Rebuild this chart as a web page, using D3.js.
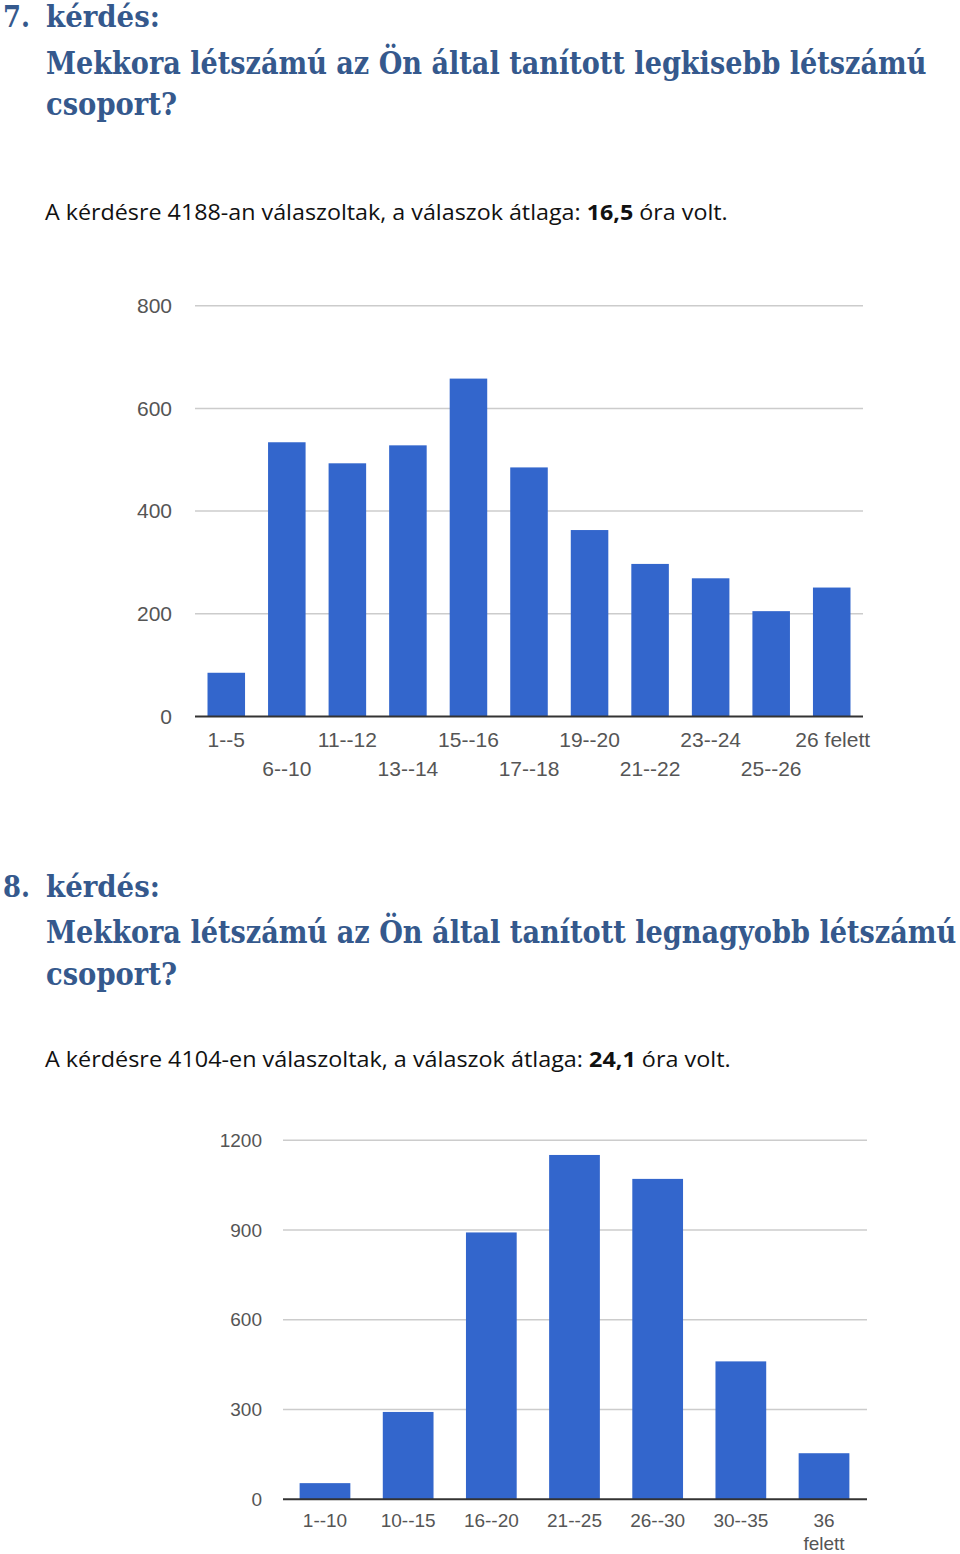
<!DOCTYPE html>
<html>
<head>
<meta charset="utf-8">
<script src="https://cdn.jsdelivr.net/npm/d3@7"></script>
<style>
  html, body { margin: 0; padding: 0; background: #fff; }
  svg { display: block; }
</style>
</head>
<body>
<svg id="page" width="960" height="1554"></svg>
<script>
// ---- Data ----
const categories1 = ["1--5","6--10","11--12","13--14","15--16","17--18","19--20","21--22","23--24","25--26","26 felett"];
const values1 = [85, 534, 493, 528, 658, 485, 363, 297, 269, 205, 251];
const ticks1 = [0, 200, 400, 600, 800];

const categories2 = ["1--10","10--15","16--20","21--25","26--30","30--35","36 felett"];
const values2 = [54, 292, 892, 1151, 1071, 461, 154];
const ticks2 = [0, 300, 600, 900, 1200];

const headingNum1 = "7.";
const headingNum2 = "8.";
const headingWord = "kérdés:";
const question1 = "Mekkora létszámú az Ön által tanított legkisebb létszámú";
const question2 = "Mekkora létszámú az Ön által tanított legnagyobb létszámú";
const questionEnd = "csoport?";
const body1 = ["A kérdésre 4188-an válaszoltak, a válaszok átlaga: ", "16,5", " óra volt."];
const body2 = ["A kérdésre 4104-en válaszoltak, a válaszok átlaga: ", "24,1", " óra volt."];

// ---- Styles ----
const HEAD_COLOR = "#35598d";
const BAR_COLOR = "#3366cc";
const GRID_COLOR = "#cccccc";
const LABEL_COLOR = "#555555";

const svg = d3.select("#page");
svg.append("rect").attr("width", 960).attr("height", 1554).attr("fill", "#fff");

function fitText(sel, x, y, targetW) {
  const node = sel.node();
  const w = node.getBBox().width;
  sel.attr("x", 0).attr("y", 0)
     .attr("transform", `translate(${x},${y}) scale(${targetW / w},1)`);
}

function heading(num, question, yNum, yQ, yEnd, qWidth) {
  const g = svg.append("g")
    .attr("font-family", "'DejaVu Serif', 'Liberation Serif', serif")
    .attr("font-weight", "bold")
    .attr("font-size", 31)
    .attr("fill", HEAD_COLOR);
  fitText(g.append("text").attr("font-size", 29).text(num), 3, yNum, 27);
  fitText(g.append("text").attr("font-size", 29).text(headingWord), 46, yNum, 114);
  fitText(g.append("text").text(question), 46, yQ, qWidth);
  fitText(g.append("text").text(questionEnd), 46, yEnd, 131);
}

function bodyLine(parts, y, width) {
  const t = svg.append("text")
    .attr("font-family", "'Open Sans', 'Noto Sans', sans-serif")
    .attr("font-size", 22)
    .attr("fill", "#111");
  t.append("tspan").text(parts[0]);
  t.append("tspan").attr("font-weight", "bold").text(parts[1]);
  t.append("tspan").text(parts[2]);
  fitText(t, 45, y, width);
}

heading(headingNum1, question1, 27, 74, 115, 881);
bodyLine(body1, 220, 683);
heading(headingNum2, question2, 897, 943, 985, 911);
bodyLine(body2, 1067, 686);

function barChart(opts) {
  const { cats, vals, ticks, x0, x1, gx0, gx1, y0, yTop, max, fontSize, tickRight, labelRows } = opts;
  const g = svg.append("g");
  const x = d3.scaleBand().domain(cats).range([x0, x1]).paddingInner(opts.padInner).paddingOuter(opts.padOuter);
  const y = d3.scaleLinear().domain([0, max]).range([y0, yTop]);

  // gridlines
  g.selectAll("line.grid").data(ticks.filter(t => t !== 0)).enter().append("line")
    .attr("x1", gx0).attr("x2", gx1)
    .attr("y1", d => y(d)).attr("y2", d => y(d))
    .attr("stroke", GRID_COLOR).attr("stroke-width", 1.5);

  // y tick labels
  const yAxis = d3.axisLeft(y).tickValues(ticks).tickFormat(d3.format("d")).tickSize(0).tickPadding(0);
  const ya = g.append("g").attr("transform", `translate(${tickRight},0)`).call(yAxis);
  ya.select(".domain").remove();
  ya.selectAll("text")
    .attr("font-family", "'Liberation Sans', Arial, sans-serif")
    .attr("font-size", fontSize)
    .attr("fill", LABEL_COLOR);

  // bars
  g.selectAll("rect.bar").data(vals).enter().append("rect")
    .attr("x", (d, i) => x(cats[i]))
    .attr("width", x.bandwidth())
    .attr("y", d => y(d))
    .attr("height", d => y(0) - y(d))
    .attr("fill", BAR_COLOR);

  // baseline
  g.append("line").attr("x1", gx0).attr("x2", gx1)
    .attr("y1", y(0)).attr("y2", y(0))
    .attr("stroke", "#333").attr("stroke-width", 2);

  // x labels
  const xAxis = d3.axisBottom(x).tickSize(0).tickPadding(0);
  const xa = g.append("g").attr("transform", `translate(0,${y(0)})`).call(xAxis);
  xa.select(".domain").remove();
  xa.selectAll("text").each(function(d, i) {
    const t = d3.select(this);
    t.attr("font-family", "'Liberation Sans', Arial, sans-serif")
     .attr("font-size", fontSize)
     .attr("fill", LABEL_COLOR)
     .attr("dy", null);
    labelRows(t, d, i);
  });
  return g;
}

// Chart 1
barChart({
  cats: categories1, vals: values1, ticks: ticks1, max: 800,
  x0: 196, x1: 862, gx0: 195, gx1: 863, y0: 716.4, yTop: 305.7,
  padInner: 0.38, padOuter: 0.19,
  fontSize: 21, tickRight: 172,
  labelRows: (t, d, i) => {
    t.attr("y", i % 2 === 0 ? 31 : 60);
    if (d === "26 felett") t.attr("x", 1);
  }
});

// Chart 2
barChart({
  cats: categories2, vals: values2, ticks: ticks2, max: 1200,
  x0: 283.4, x1: 865.6, gx0: 283, gx1: 867, y0: 1499.3, yTop: 1140.3,
  padInner: 0.39, padOuter: 0.195,
  fontSize: 19, tickRight: 262,
  labelRows: (t, d, i) => {
    t.attr("y", 28);
    if (d.indexOf(" ") > 0) {
      const parts = d.split(" ");
      t.text(null);
      t.append("tspan").attr("x", 0).attr("dy", 0).text(parts[0]);
      t.append("tspan").attr("x", 0).attr("dy", 23).text(parts[1]);
    }
  }
});
</script>
</body>
</html>
